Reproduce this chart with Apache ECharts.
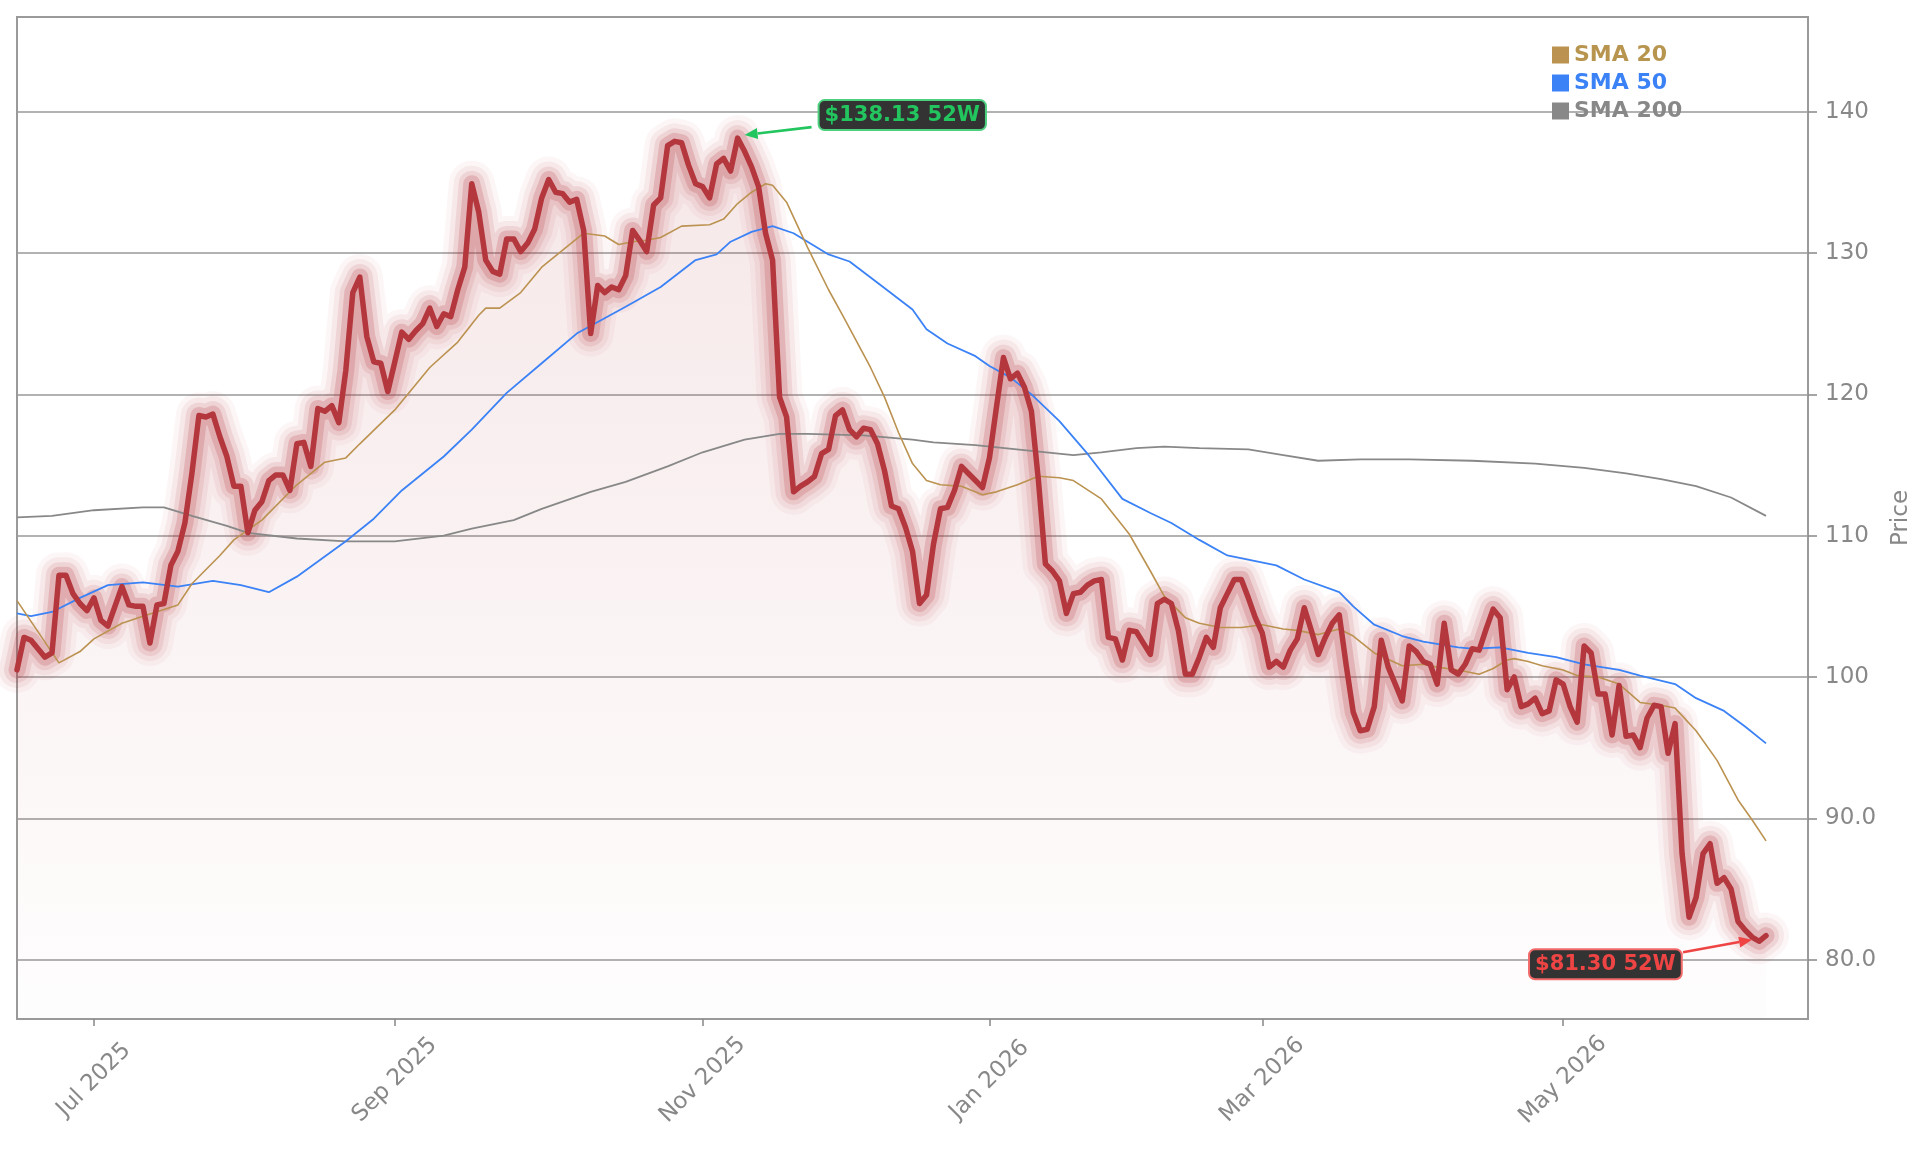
<!DOCTYPE html>
<html>
<head>
<meta charset="utf-8">
<title>Price with moving averages</title>
<script src="https://cdn.jsdelivr.net/npm/echarts@6/dist/echarts.min.js"></script>
<style>
  html, body { margin: 0; padding: 0; background: #fff; }
  #chart { width: 1929px; height: 1153px; }
</style>
</head>
<body>
<div id="chart"></div>
<script>
// trading calendar: first session shown + market holidays in the window
const startDate = '2025-06-13'
const holidays = ['2025-06-19', '2025-07-04', '2025-09-01', '2025-11-27', '2025-12-25',
  '2026-01-01', '2026-01-19', '2026-02-16', '2026-04-03', '2026-05-25', '2026-06-19']
const axisSessions = 257 // a few empty sessions after the last close

// daily closes, one per session
const closes = [
  100.5, 102.8, 102.6, 102.0, 101.4, 101.7, 107.2, 107.2, 105.9, 105.2,
  104.7, 105.6, 104.0, 103.6, 105.0, 106.4, 105.1, 105.0, 105.0, 102.4,
  105.1, 105.2, 107.9, 108.9, 110.9, 114.4, 118.5, 118.4, 118.6, 117.0,
  115.6, 113.5, 113.5, 110.2, 111.8, 112.4, 113.9, 114.3, 114.3, 113.2,
  116.5, 116.6, 114.9, 119.0, 118.8, 119.2, 118.0, 121.7, 127.2, 128.3,
  124.1, 122.3, 122.2, 120.2, 122.3, 124.4, 123.9, 124.5, 125.0, 126.1,
  124.8, 125.7, 125.5, 127.4, 129.0, 134.9, 132.9, 129.5, 128.7, 128.5,
  131.0, 131.0, 130.1, 130.7, 131.7, 133.9, 135.2, 134.3, 134.2, 133.6,
  133.8, 131.6, 124.3, 127.7, 127.2, 127.6, 127.4, 128.4, 131.6, 130.9,
  130.1, 133.4, 133.9, 137.6, 137.9, 137.8, 136.2, 134.9, 134.7, 133.9,
  136.3, 136.7, 135.8, 138.13, 137.2, 136.1, 134.7, 131.4, 129.5, 119.8,
  118.4, 113.1, 113.5, 113.8, 114.2, 115.8, 116.1, 118.5, 118.9, 117.5,
  117.0, 117.6, 117.5, 116.5, 114.6, 112.1, 111.9, 110.6, 108.9, 105.2,
  105.8, 109.4, 111.9, 112.0, 113.2, 114.9, 114.4, 113.9, 113.4, 115.5,
  119.1, 122.6, 121.1, 121.5, 120.5, 118.8, 113.9, 108.0, 107.5, 106.8,
  104.5, 105.9, 106.0, 106.5, 106.8, 106.9, 102.8, 102.7, 101.2, 103.3,
  103.2, 102.4, 101.6, 105.2, 105.5, 105.2, 103.3, 100.2, 100.2, 101.4,
  102.8, 102.1, 104.9, 105.9, 106.9, 106.9, 105.6, 104.2, 103.1, 100.7,
  101.1, 100.7, 101.9, 102.7, 104.9, 103.3, 101.6, 102.8, 103.8, 104.4,
  100.8, 97.5, 96.2, 96.3, 97.9, 102.6, 100.7, 99.5, 98.3, 102.2,
  101.8, 101.1, 100.9, 99.5, 103.8, 100.5, 100.2, 100.9, 102.0, 101.9,
  103.4, 104.8, 104.2, 99.1, 100.0, 97.9, 98.1, 98.5, 97.4, 97.6,
  99.8, 99.5, 97.9, 96.8, 102.2, 101.7, 98.8, 98.8, 95.9, 99.4,
  95.8, 95.9, 95.0, 97.1, 98.0, 97.9, 94.6, 96.7, 87.5, 83.0,
  84.4, 87.5, 88.2, 85.4, 85.8, 85.0, 82.7, 82.1, 81.6, 81.3,
  81.7
]

const sma20 = [
  [0, 105.4], [6, 101.0], [9, 101.8], [11, 102.7], [15, 103.8], [18, 104.3], [23, 105.1],
  [25, 106.6], [29, 108.6], [31, 109.7], [35, 111.1], [40, 113.6], [44, 115.2], [47, 115.5],
  [49, 116.5], [54, 118.9], [59, 121.9], [63, 123.7], [66, 125.6], [67, 126.1], [69, 126.1],
  [72, 127.2], [75, 129.0], [78, 130.2], [81, 131.4], [84, 131.2], [86, 130.6], [88, 130.8],
  [90, 130.9], [92, 131.1], [95, 131.9], [99, 132.0], [101, 132.4], [103, 133.5], [105, 134.3],
  [107, 134.9], [108, 134.8], [110, 133.6], [113, 130.4], [116, 127.4], [118, 125.6],
  [122, 121.9], [124, 119.8], [126, 117.3], [128, 115.1], [130, 113.9], [132, 113.6],
  [135, 113.5], [138, 112.9], [140, 113.1], [143, 113.6], [146, 114.2], [149, 114.1],
  [151, 113.9], [155, 112.6], [159, 110.1], [162, 107.5], [164, 105.7], [167, 104.2],
  [169, 103.8], [172, 103.5], [175, 103.5], [178, 103.7], [181, 103.4], [183, 103.3],
  [186, 103.0], [189, 103.4], [191, 102.9], [194, 101.7], [198, 100.8], [201, 100.9],
  [203, 100.7], [206, 100.5], [209, 100.2], [211, 100.6], [213, 101.2], [214, 101.3],
  [216, 101.1], [218, 100.8], [221, 100.5], [223, 100.1], [226, 100.0], [229, 99.5],
  [232, 98.2], [235, 98.0], [237, 97.8], [240, 96.2], [243, 94.1], [246, 91.3], [248, 89.9],
  [250, 88.4]
]
const sma50 = [
  [0, 104.5], [2, 104.3], [5, 104.6], [9, 105.6], [13, 106.5], [18, 106.7], [23, 106.4],
  [28, 106.8], [32, 106.5], [36, 106.0], [40, 107.1], [47, 109.6], [51, 111.2], [55, 113.2],
  [61, 115.6], [65, 117.5], [70, 120.1], [75, 122.2], [80, 124.3], [87, 126.2], [92, 127.6],
  [97, 129.5], [100, 129.9], [102, 130.8], [105, 131.5], [108, 131.9], [111, 131.4],
  [116, 129.9], [119, 129.4], [123, 127.9], [128, 126.0], [130, 124.6], [133, 123.6],
  [137, 122.7], [139, 122.0], [142, 121.2], [145, 120.0], [149, 118.1], [153, 115.8],
  [158, 112.6], [162, 111.6], [165, 110.9], [169, 109.7], [173, 108.6], [180, 107.9],
  [184, 106.9], [189, 106.0], [191, 105.0], [194, 103.7], [198, 102.9], [201, 102.5],
  [206, 102.1], [208, 102.0], [212, 102.1], [216, 101.7], [220, 101.4], [224, 100.9],
  [229, 100.5], [232, 100.1], [237, 99.5], [240, 98.5], [244, 97.6], [247, 96.5], [250, 95.3]
]
const sma200 = [
  [0, 111.3], [5, 111.4], [11, 111.8], [18, 112.0], [21, 112.0], [25, 111.4], [30, 110.7],
  [33, 110.2], [40, 109.8], [47, 109.6], [54, 109.6], [61, 110.0], [65, 110.5], [71, 111.1],
  [75, 111.9], [82, 113.1], [87, 113.8], [93, 114.9], [98, 115.9], [104, 116.8], [109, 117.2],
  [113, 117.2], [121, 117.1], [128, 116.8], [131, 116.6], [137, 116.4], [145, 116.0],
  [151, 115.7], [155, 115.9], [160, 116.2], [164, 116.3], [169, 116.2], [176, 116.1],
  [181, 115.7], [186, 115.3], [192, 115.4], [199, 115.4], [208, 115.3], [217, 115.1],
  [224, 114.8], [230, 114.4], [235, 114.0], [240, 113.5], [245, 112.7], [250, 111.4]
]

const yTicks = [80, 90, 100, 110, 120, 130, 140]
const tickMonths = [0, 2, 4, 6, 8, 10] // Jan, Mar, May, Jul, Sep, Nov
const monthNames = ['Jan', 'Feb', 'Mar', 'Apr', 'May', 'Jun', 'Jul', 'Aug', 'Sep', 'Oct', 'Nov', 'Dec']

const RED = '#b3373d'
const GOLD = '#bb9250'
const BLUE = '#3b82f6'
const GREY = '#888888'
const FONT = '"DejaVu Sans", sans-serif'

function tradingDays(start, count) {
  const out = []
  const d = new Date(start + 'T00:00:00Z')
  while (out.length < count) {
    const iso = d.toISOString().slice(0, 10)
    const wd = d.getUTCDay()
    if (wd !== 0 && wd !== 6 && !holidays.includes(iso)) out.push(iso)
    d.setUTCDate(d.getUTCDate() + 1)
  }
  return out
}

const dates = tradingDays(startDate, axisSessions)
const monthOf = s => Number(s.slice(5, 7)) - 1
const isTick = i => i > 0 && monthOf(dates[i]) !== monthOf(dates[i - 1]) && tickMonths.includes(monthOf(dates[i]))

const chart = echarts.init(document.getElementById('chart'))

const glow = [
  { width: 46, opacity: 0.045 },
  { width: 36, opacity: 0.07 },
  { width: 26, opacity: 0.11 },
  { width: 17, opacity: 0.2 }
]

const series = []

// soft fill under the close
series.push({
  name: 'fill',
  type: 'line',
  data: closes,
  symbol: 'none',
  silent: true,
  lineStyle: { width: 0, opacity: 0 },
  areaStyle: {
    origin: 'start',
    color: new echarts.graphic.LinearGradient(0, 0, 0, 1, [
      { offset: 0, color: 'rgba(179, 55, 61, 0.17)' },
      { offset: 1, color: 'rgba(179, 55, 61, 0.01)' }
    ])
  },
  z: 1
})

glow.forEach((g, k) => {
  series.push({
    name: 'glow' + k,
    type: 'line',
    data: closes,
    symbol: 'none',
    silent: true,
    lineStyle: { color: RED, width: g.width, opacity: g.opacity, cap: 'round', join: 'round' },
    z: 2
  })
})

const smaSeries = [
  { name: 'SMA 200', data: sma200, color: GREY, width: 1.8 },
  { name: 'SMA 50', data: sma50, color: BLUE, width: 1.8 },
  { name: 'SMA 20', data: sma20, color: GOLD, width: 1.6 }
]
smaSeries.forEach(s => {
  series.push({
    name: s.name,
    type: 'line',
    data: s.data,
    symbol: 'none',
    color: s.color,
    lineStyle: { color: s.color, width: s.width },
    z: 3
  })
})

series.push({
  name: 'Close',
  type: 'line',
  data: closes,
  symbol: 'none',
  lineStyle: { color: RED, width: 5.5, cap: 'round', join: 'round' },
  z: 4
})
const closeIndex = series.length - 1

chart.setOption({
  animation: false,
  backgroundColor: '#ffffff',
  textStyle: { fontFamily: FONT },
  grid: {
    left: 17, right: 121, top: 17, bottom: 134,
    show: true, borderColor: '#9a9a9a', borderWidth: 2,
    outerBoundsMode: 'none'
  },
  legend: {
    orient: 'vertical',
    left: 1547, top: 39,
    itemWidth: 17, itemHeight: 17, itemGap: 6,
    icon: 'rect',
    selectedMode: false,
    textStyle: { fontFamily: FONT, fontSize: 22, fontWeight: 'bold', lineHeight: 20 },
    data: [
      { name: 'SMA 20', textStyle: { color: '#b8954f' } },
      { name: 'SMA 50', textStyle: { color: BLUE } },
      { name: 'SMA 200', textStyle: { color: GREY } }
    ]
  },
  xAxis: {
    type: 'category',
    data: dates,
    boundaryGap: false,
    axisLine: { lineStyle: { color: '#9a9a9a', width: 2 } },
    axisTick: { interval: isTick, length: 7, lineStyle: { color: '#888', width: 1.5 } },
    axisLabel: {
      interval: isTick,
      rotate: 45,
      align: 'center',
      verticalAlign: 'middle',
      margin: 61,
      color: '#888',
      fontSize: 23,
      fontFamily: FONT,
      formatter: v => monthNames[monthOf(v)] + ' ' + v.slice(0, 4)
    },
    splitLine: { show: false }
  },
  yAxis: {
    type: 'value',
    position: 'right',
    min: 75.8,
    max: 146.7,
    name: 'Price',
    nameLocation: 'middle',
    nameGap: 82,
    nameTextStyle: { color: '#888', fontSize: 23, fontFamily: FONT },
    axisLine: { show: true, lineStyle: { color: '#9a9a9a', width: 2 } },
    axisTick: { show: true, customValues: yTicks, length: 9, lineStyle: { color: '#888', width: 1.5 } },
    axisLabel: {
      customValues: yTicks,
      margin: 17,
      color: '#888',
      fontSize: 23,
      fontFamily: FONT,
      formatter: v => (v < 100 ? v.toFixed(1) : String(v))
    },
    splitLine: { show: true, lineStyle: { color: '#999', width: 1.6 } }
  },
  series
})

// 52-week high / low call-outs
function arrow(from, to, color) {
  const dx = to[0] - from[0], dy = to[1] - from[1]
  const len = Math.hypot(dx, dy)
  const ux = dx / len, uy = dy / len
  const head = 13, half = 5.5
  const bx = to[0] - ux * head, by = to[1] - uy * head
  return [
    { type: 'line', z: 100, shape: { x1: from[0], y1: from[1], x2: bx, y2: by },
      style: { stroke: color, lineWidth: 2.6 } },
    { type: 'polygon', z: 100,
      shape: { points: [to, [bx - uy * half, by + ux * half], [bx + uy * half, by - ux * half]] },
      style: { fill: color } }
  ]
}

function callout(x, y, text, color, border) {
  return {
    type: 'text', x, y, z: 101,
    style: {
      text, fill: color, font: 'bold 21px ' + FONT,
      align: 'left', verticalAlign: 'middle',
      backgroundColor: '#333333', borderColor: border, borderWidth: 2, borderRadius: 5,
      padding: [4, 5, 3, 5]
    }
  }
}

const hiVal = Math.max(...closes)
const loVal = Math.min(...closes)
const hiIdx = closes.indexOf(hiVal)
const loIdx = closes.indexOf(loVal)
const hi = chart.convertToPixel({ seriesIndex: closeIndex }, [hiIdx, hiVal])
const lo = chart.convertToPixel({ seriesIndex: closeIndex }, [loIdx, loVal])

const GREEN = '#22c55e'
const LRED = '#ef4444'

chart.setOption({
  graphic: [
    ...arrow([hi[0] + 74, hi[1] - 11], [hi[0] + 7, hi[1] - 3], GREEN),
    callout(hi[0] + 82, hi[1] - 23, '$' + hiVal.toFixed(2) + ' 52W', GREEN, '#4cd07d'),
    ...arrow([lo[0] - 76, lo[1] + 11], [lo[0] - 7, lo[1] - 1.5], LRED),
    callout(lo[0] - 229, lo[1] + 23, '$' + loVal.toFixed(2) + ' 52W', LRED, '#f26a6a')
  ]
})
</script>
</body>
</html>
